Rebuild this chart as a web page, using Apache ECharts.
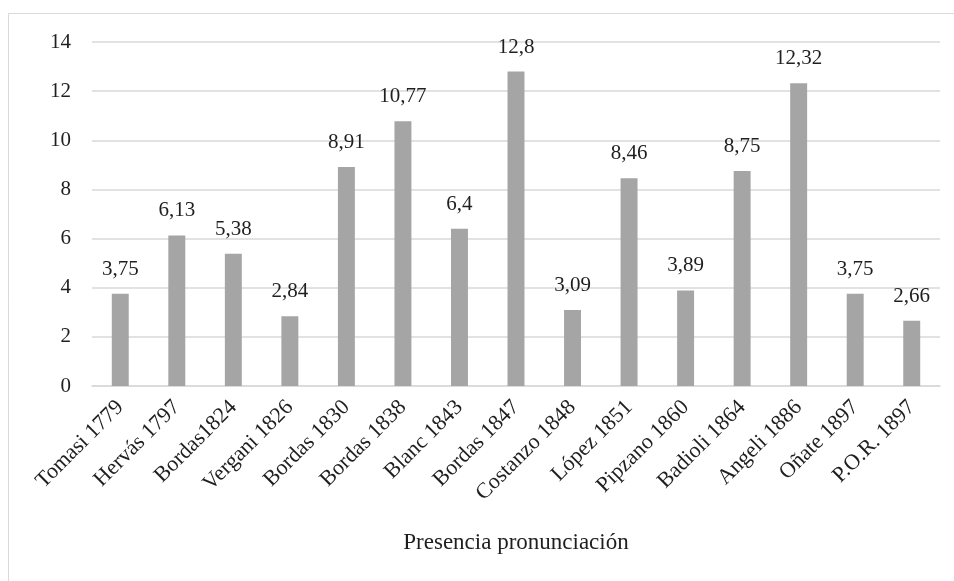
<!DOCTYPE html>
<html>
<head>
<meta charset="utf-8">
<script src="https://cdn.jsdelivr.net/npm/echarts@6/dist/echarts.min.js"></script>
<style>
  html, body { margin: 0; padding: 0; background: #ffffff; }
  #chart { width: 954px; height: 581px; }
</style>
</head>
<body>
<div id="chart"></div>
<script>
// Obras y valor de presencia de la pronunciación
var categories = [
  'Tomasi 1779', 'Hervás 1797', 'Bordas1824', 'Vergani 1826', 'Bordas 1830',
  'Bordas 1838', 'Blanc 1843', 'Bordas 1847', 'Costanzo 1848', 'López 1851',
  'Pipzano 1860', 'Badioli 1864', 'Angeli 1886', 'Oñate 1897', 'P.O.R. 1897'
];
var values = [3.75, 6.13, 5.38, 2.84, 8.91, 10.77, 6.4, 12.8, 3.09, 8.46, 3.89, 8.75, 12.32, 3.75, 2.66];
var yTicks = { min: 0, max: 14, interval: 2 };
var axisTitle = 'Presencia pronunciación';

var serif = '"Liberation Serif", "DejaVu Serif", serif';
var textColor = '#1f1f1f';

var chart = echarts.init(document.getElementById('chart'), null, { renderer: 'canvas' });
chart.setOption({
  animation: false,
  backgroundColor: '#ffffff',
  textStyle: { fontFamily: serif },
  graphic: [{
    type: 'rect',
    silent: true,
    shape: { x: 8.5, y: 13.5, width: 1200, height: 1200 },
    style: { fill: 'none', stroke: '#d9d9d9', lineWidth: 1 }
  }],
  grid: { left: 92, right: 14, top: 42, bottom: 195, containLabel: false },
  xAxis: {
    type: 'category',
    data: categories,
    name: axisTitle,
    nameLocation: 'middle',
    nameGap: 145,
    nameTextStyle: { fontFamily: serif, fontSize: 23, color: textColor },
    axisLine: { show: true, lineStyle: { color: '#d9d9d9', width: 1.5 } },
    axisTick: { show: false },
    axisLabel: {
      interval: 0,
      rotate: 45,
      margin: 18,
      fontFamily: serif,
      fontSize: 22,
      color: textColor
    }
  },
  yAxis: {
    type: 'value',
    min: yTicks.min,
    max: yTicks.max,
    interval: yTicks.interval,
    axisLine: { show: false },
    axisTick: { show: false },
    splitLine: { lineStyle: { color: '#d9d9d9', width: 1.5 } },
    axisLabel: {
      margin: 21,
      fontFamily: serif,
      fontSize: 21,
      color: textColor
    }
  },
  series: [{
    type: 'bar',
    data: values,
    barWidth: '30%',
    itemStyle: { color: '#a5a5a5' },
    label: {
      show: true,
      position: 'top',
      distance: 14,
      fontFamily: serif,
      fontSize: 21,
      color: textColor,
      formatter: function (p) { return String(p.value).replace('.', ','); }
    }
  }]
});
</script>
</body>
</html>
